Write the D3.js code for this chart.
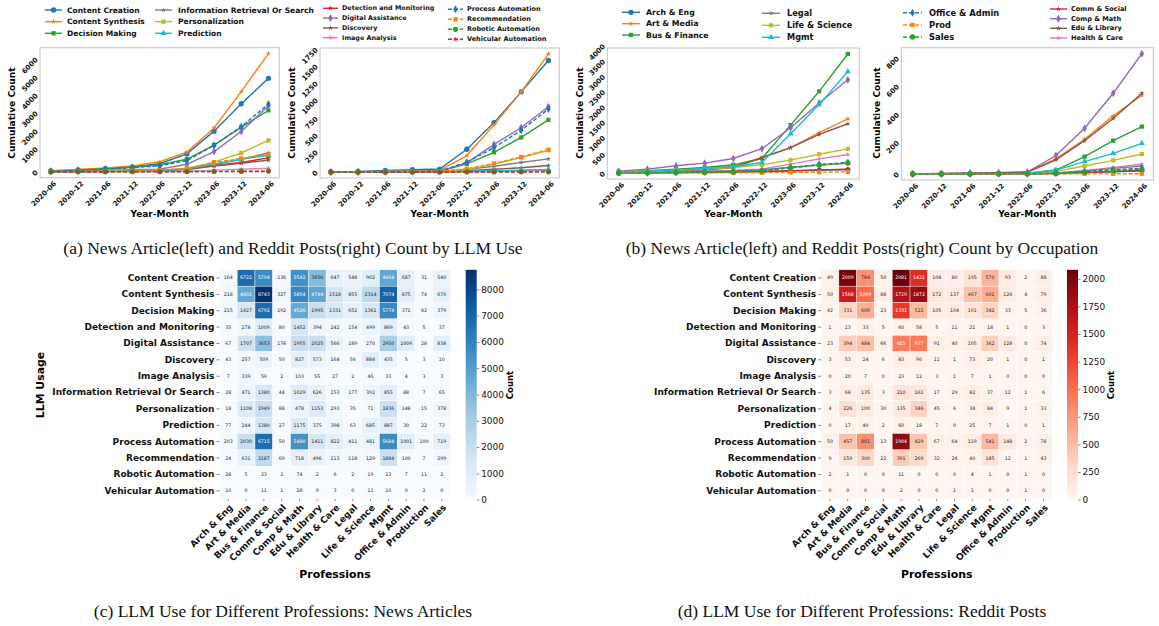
<!DOCTYPE html>
<html><head><meta charset="utf-8">
<script src="https://cdn.jsdelivr.net/npm/d3@7"></script>
<style>body{margin:0;background:#fff;} svg{display:block;font-family:"DejaVu Sans",sans-serif;}</style>
</head><body><svg id="c" width="1159" height="626"></svg>
<script>
// ---------------- DATA ----------------
const months = ["2020-06","2020-12","2021-06","2021-12","2022-06","2022-12","2023-06","2023-12","2024-06"];
const llmUses = ["Content Creation","Content Synthesis","Decision Making","Detection and Monitoring","Digital Assistance","Discovery","Image Analysis","Information Retrieval Or Search","Personalization","Prediction","Process Automation","Recommendation","Robotic Automation","Vehicular Automation"];
const professions = ["Arch & Eng","Art & Media","Bus & Finance","Comm & Social","Comp & Math","Edu & Library","Health & Care","Legal","Life & Science","Mgmt","Office & Admin","Production","Sales"];
const occupationLegendNames = ["Arch & Eng","Art & Media","Bus & Finance","Comm & Social","Comp & Math","Edu & Library","Health & Care","Legal","Life & Science","Mgmt","Office & Admin","Prod","Sales"];

// (a) left: news articles, cumulative by LLM use
const newsByUse = [
  [50,100,180,280,450,1000,2270,3800,5220],
  [60,130,220,330,560,1100,2450,4480,6600],
  [40,90,160,250,390,700,1490,2490,3430],
  [5,10,20,40,70,150,350,520,780],
  [20,40,70,110,150,420,1130,2250,3690],
  [10,20,30,45,60,120,320,480,650],
  [2,4,7,10,15,30,80,150,190],
  [10,20,40,60,80,150,400,700,1050],
  [10,20,40,60,100,190,540,1050,1750],
  [10,20,35,50,70,160,440,700,920],
  [30,80,150,230,330,620,1480,2520,3780],
  [10,20,40,60,90,180,520,740,980],
  [1,2,3,4,8,12,20,30,40],
  [0,1,2,3,4,6,10,15,20]
];
// (a) right: reddit posts, cumulative by LLM use
const redditByUse = [
  [5,10,25,35,45,340,737,1195,1662],
  [2,5,10,15,25,246,703,1195,1760],
  [0,2,5,8,10,123,295,516,777],
  [0,1,2,3,4,8,15,22,30],
  [0,2,5,8,15,138,413,664,973],
  [0,1,3,5,8,22,42,64,98],
  [0,1,2,3,4,6,12,18,25],
  [1,2,4,6,8,40,88,143,197],
  [0,1,2,4,6,40,120,215,325],
  [0,1,2,3,4,10,20,30,40],
  [0,2,5,8,15,148,364,624,939],
  [0,2,4,6,10,50,128,226,334],
  [0,0,1,1,2,3,3,4,5],
  [0,0,0,1,1,1,2,2,3]
];
// (b) left: news articles, cumulative by occupation
const newsByOcc = [
  [5,10,15,20,30,45,70,95,115],
  [30,60,100,150,217,510,835,1323,1779],
  [43,76,130,184,271,477,1573,2680,3905],
  [5,10,20,30,40,55,80,105,125],
  [65,130,239,325,477,803,1486,2300,3058],
  [20,40,70,100,184,500,835,1269,1616],
  [10,20,40,60,87,130,293,466,607],
  [10,20,35,50,70,110,190,260,320],
  [25,50,90,130,184,271,423,618,792],
  [30,60,100,150,206,347,1290,2245,3330],
  [5,10,20,30,45,80,180,280,350],
  [1,2,4,6,8,12,20,30,40],
  [5,10,20,30,40,75,170,265,330]
];
// (b) right: reddit posts, cumulative by occupation
const redditByOcc = [
  [0,1,1,2,2,5,10,15,22],
  [1,3,6,10,15,107,247,413,560],
  [0,1,2,3,5,28,123,237,337],
  [0,0,1,1,2,4,10,18,25],
  [1,3,7,10,14,131,325,574,855],
  [1,2,5,8,12,100,237,394,574],
  [0,0,1,1,2,8,24,47,69],
  [0,0,1,1,2,7,22,40,57],
  [0,0,1,1,3,19,57,97,142],
  [0,0,1,2,4,28,88,147,218],
  [0,0,0,1,1,5,18,30,40],
  [0,0,0,0,0,0,1,1,2],
  [0,0,0,1,1,4,14,25,33]
];
// y tick labels of the line charts
const yTicksA1 = [0,1000,2000,3000,4000,5000,6000];
const yTicksA2 = [0,250,500,750,1000,1250,1500,1750];
const yTicksB1 = [0,500,1000,1500,2000,2500,3000,3500,4000];
const yTicksB2 = [0,200,400,600,800];

// (c) heatmap: news articles (rows = LLM uses, cols = professions)
const heatNews = [
  [164,6722,5704,136,5542,3856,647,548,902,4664,687,31,540],
  [218,4601,8743,327,5854,4744,1518,855,2314,7074,875,74,670],
  [215,1427,6792,192,4526,1995,1331,652,1361,5774,371,82,379],
  [35,278,1009,80,1452,394,242,154,499,869,43,5,37],
  [67,1707,3653,178,1955,2025,566,189,270,2950,1009,28,838],
  [43,257,509,50,827,573,164,56,884,435,5,3,10],
  [7,339,59,2,103,55,27,2,46,33,4,3,3],
  [28,471,1380,44,1029,626,153,177,392,855,88,7,65],
  [18,1108,1949,88,478,1153,293,35,71,1836,148,15,378],
  [77,244,1380,27,1175,375,398,63,685,887,30,22,73],
  [203,2030,6715,50,5480,1411,822,411,481,5684,1001,100,719],
  [24,631,2187,69,718,496,213,118,129,1884,100,7,299],
  [28,5,23,2,74,2,6,2,19,23,7,11,2],
  [10,0,11,1,28,0,3,0,11,10,0,2,0]
];
// (d) heatmap: reddit posts
const heatReddit = [
  [49,2009,784,50,2081,1421,104,80,195,570,93,2,88],
  [50,1568,1009,88,1729,1872,172,137,467,601,126,4,79],
  [42,331,600,23,1331,522,105,104,191,342,33,5,36],
  [1,13,33,5,60,58,5,11,21,18,1,0,3],
  [23,394,484,66,915,937,91,40,105,362,128,0,74],
  [3,53,24,6,83,90,11,1,73,20,1,0,1],
  [0,20,7,0,23,12,3,1,7,1,0,0,0],
  [3,68,135,3,210,161,17,29,82,37,12,1,6],
  [4,226,100,30,135,346,45,6,34,84,9,1,33],
  [0,17,40,2,60,18,7,0,25,7,1,0,1],
  [50,457,801,13,1904,429,67,64,119,541,148,2,78],
  [9,159,300,22,391,269,32,24,40,185,12,1,43],
  [2,1,0,0,11,0,0,0,4,1,0,1,0],
  [0,0,0,0,2,0,0,1,1,0,0,1,0]
];
const cbTicksNews = [0,1000,2000,3000,4000,5000,6000,7000,8000];
const cbTicksReddit = [0,250,500,750,1000,1250,1500,1750,2000];

// ---------------- STYLE ----------------
const tab10 = ["#1f77b4","#ff7f0e","#2ca02c","#d62728","#9467bd","#8c564b","#e377c2","#7f7f7f","#bcbd22","#17becf"];
const markerCycle = [d3.symbolCircle,d3.symbolStar,d3.symbolSquare,d3.symbolStar,d3.symbolDiamond,d3.symbolStar,d3.symbolStar,d3.symbolStar,d3.symbolSquare,d3.symbolTriangle,d3.symbolDiamond,d3.symbolSquare,d3.symbolCircle,d3.symbolStar];
function mSize(t){ return t===d3.symbolStar?9:(t===d3.symbolCircle?22:(t===d3.symbolTriangle?16:18)); }
const fmt = d3.format("d");

const svg = d3.select("#c");

function lineChart(cfg){
  const g = svg.append("g");
  const x = d3.scaleLinear().domain([-0.4, months.length-1+0.4]).range([cfg.fx0, cfg.fx1]);
  const all = cfg.values.flat();
  const mn = d3.min(all), mx = d3.max(all), pad = (mx-mn)*0.05;
  const y = d3.scaleLinear().domain([mn-pad, mx+pad]).range([cfg.fy1, cfg.fy0]);
  g.append("rect").attr("x",cfg.fx0).attr("y",cfg.fy0).attr("width",cfg.fx1-cfg.fx0).attr("height",cfg.fy1-cfg.fy0)
    .attr("fill","none").attr("stroke","#c4c4c4").attr("stroke-width",1);
  const line = d3.line().x((d,j)=>x(j)).y(d=>y(d));
  cfg.values.forEach((vals,i)=>{
    const col = tab10[i%10];
    g.append("path").datum(vals).attr("d",line).attr("fill","none").attr("stroke",col)
      .attr("stroke-width",1.4).attr("stroke-dasharray", i>=10?"4,2":null);
    const t = markerCycle[i];
    g.selectAll(null).data(vals).join("path")
      .attr("transform",(d,j)=>`translate(${x(j)},${y(d)})`)
      .attr("d", d3.symbol().type(t).size(mSize(t))).attr("fill",col);
  });
  // axes
  const ya = g.append("g").attr("transform",`translate(${cfg.fx0},0)`)
    .call(d3.axisLeft(y).tickValues(cfg.yTicks).tickFormat(fmt).tickSize(0).tickPadding(3));
  ya.select(".domain").remove();
  ya.selectAll("text").attr("font-size",7).attr("font-weight","bold").attr("fill","#111")
    .attr("font-family","DejaVu Sans").attr("dy",null).attr("x",0).attr("dominant-baseline","central")
    .attr("transform",function(){const L=this.getComputedTextLength();return `translate(-3,${-L/(2*Math.SQRT2)+1}) rotate(-45)`;});
  const xa = g.append("g").attr("transform",`translate(0,${cfg.fy1})`)
    .call(d3.axisBottom(x).tickValues(d3.range(months.length)).tickFormat(i=>months[i]).tickSize(0));
  xa.select(".domain").remove();
  xa.selectAll("text").attr("font-size",7).attr("font-weight","bold").attr("fill","#111")
    .attr("font-family","DejaVu Sans").attr("y",0).attr("dy",null).attr("dominant-baseline","central")
    .attr("text-anchor","end").attr("transform","translate(4,5) rotate(-45)");
  g.append("text").attr("x",(cfg.fx0+cfg.fx1)/2).attr("y",217).attr("text-anchor","middle")
    .attr("font-size",9).attr("font-weight","bold").text("Year-Month");
  g.append("text").attr("transform",`translate(${cfg.ylx},113) rotate(-90)`).attr("text-anchor","middle")
    .attr("dominant-baseline","central").attr("font-size",9.1).attr("font-weight","bold").text("Cumulative Count");
  // legend
  cfg.legend.forEach(col=>{
    col.idx.forEach((i,k)=>{
      const yy = col.ys[k], c = tab10[i%10], t = markerCycle[i];
      g.append("line").attr("x1",col.sx0).attr("x2",col.sx1).attr("y1",yy).attr("y2",yy)
        .attr("stroke",c).attr("stroke-width",1.4).attr("stroke-dasharray", i>=10?"4,2":null);
      g.append("path").attr("transform",`translate(${(col.sx0+col.sx1)/2},${yy})`)
        .attr("d",d3.symbol().type(t).size(mSize(t))).attr("fill",c);
      g.append("text").attr("x",col.tx).attr("y",yy).attr("dominant-baseline","central")
        .attr("font-size",col.fs).attr("font-weight","bold").attr("fill","#111").text(cfg.names[i]);
    });
  });
}

lineChart({values:newsByUse, names:llmUses, yTicks:yTicksA1, fx0:40, fx1:279.3, fy0:47.7, fy1:177.7, ylx:12,
  legend:[{idx:[0,1,2], ys:[10,21.7,33.3], sx0:45, sx1:62, tx:67, fs:7.55},
          {idx:[7,8,9], ys:[10,21.7,33.3], sx0:155, sx1:172, tx:178, fs:7.55}]});
lineChart({values:redditByUse, names:llmUses, yTicks:yTicksA2, fx0:320, fx1:559.3, fy0:48, fy1:178, ylx:292,
  legend:[{idx:[3,4,5,6], ys:[8.3,18.1,27.9,37.7], sx0:323, sx1:338, tx:342, fs:6.4},
          {idx:[10,11,12,13], ys:[9.3,19.3,29.3,39.3], sx0:448, sx1:463, tx:467, fs:6.5}]});
lineChart({values:newsByOcc, names:occupationLegendNames, yTicks:yTicksB1, fx0:607.3, fx1:859.3, fy0:48, fy1:179, ylx:580,
  legend:[{idx:[0,1,2], ys:[12.3,23.7,35], sx0:622, sx1:640, tx:646, fs:7.8},
          {idx:[7,8,9], ys:[13.3,25.3,37.3], sx0:762, sx1:780, tx:787, fs:8.2}]});
lineChart({values:redditByOcc, names:occupationLegendNames, yTicks:yTicksB2, fx0:901.3, fx1:1153.3, fy0:47.7, fy1:180, ylx:876.7,
  legend:[{idx:[10,11,12], ys:[12.7,25,37], sx0:903, sx1:922, tx:929, fs:8.4},
          {idx:[3,4,5,6], ys:[9,18.7,28.3,38], sx0:1050, sx1:1067, tx:1071, fs:6.6}]});

function relLum(c){ const r=d3.rgb(c); const f=v=>{v/=255;return v<=0.03928?v/12.92:Math.pow((v+0.055)/1.055,2.4);}; return 0.2126*f(r.r)+0.7152*f(r.g)+0.0722*f(r.b); }

function heatmap(cfg){
  const g = svg.append("g");
  const x = d3.scaleBand().domain(professions).range([cfg.x0, cfg.x1]);
  const y = d3.scaleBand().domain(llmUses).range([269.8, 499]);
  const vmax = d3.max(cfg.values.flat());
  const color = d3.scaleSequential(cfg.interp).domain([0, vmax]);
  cfg.values.forEach((row,ri)=>{
    row.forEach((v,ci)=>{
      const c = color(v);
      g.append("rect").attr("x",x(professions[ci])).attr("y",y(llmUses[ri]))
        .attr("width",x.bandwidth()).attr("height",y.bandwidth()).attr("fill",c)
        .attr("stroke","#fff").attr("stroke-width",0.4);
      g.append("text").attr("x",x(professions[ci])+x.bandwidth()/2).attr("y",y(llmUses[ri])+y.bandwidth()/2)
        .attr("text-anchor","middle").attr("dominant-baseline","central").attr("font-size",4.7)
        .attr("fill", relLum(c)>0.408?"#262626":"#fff").text(v);
    });
  });
  const ya = g.append("g").attr("transform",`translate(${cfg.x0},0)`).call(d3.axisLeft(y).tickSize(3).tickPadding(2));
  ya.select(".domain").remove();
  ya.selectAll("line").attr("stroke","#333").attr("stroke-width",0.6);
  ya.selectAll("text").attr("font-size",9).attr("font-weight","bold").attr("fill","#111").attr("font-family","DejaVu Sans");
  const xa = g.append("g").attr("transform",`translate(0,499)`).call(d3.axisBottom(x).tickSize(2).tickPadding(2));
  xa.select(".domain").remove();
  xa.selectAll("line").attr("stroke","#333").attr("stroke-width",0.6);
  xa.selectAll("text").attr("font-size",9).attr("font-weight","bold").attr("fill","#111").attr("font-family","DejaVu Sans")
    .attr("y",0).attr("dy",null).attr("dominant-baseline","central").attr("text-anchor","end")
    .attr("transform","translate(3,7) rotate(-45)");
  g.append("text").attr("x",(cfg.x0+cfg.x1)/2).attr("y",578).attr("text-anchor","middle")
    .attr("font-size",10.9).attr("font-weight","bold").text("Professions");
  if(cfg.ylabel) g.append("text").attr("transform",`translate(${cfg.ylx},385) rotate(-90)`).attr("text-anchor","middle")
    .attr("dominant-baseline","central").attr("font-size",10.9).attr("font-weight","bold").text(cfg.ylabel);
  // colorbar
  const cb = d3.scaleLinear().domain([0,vmax]).range([499.6,269.8]);
  const gid = "grad"+cfg.id;
  const grad = svg.append("defs").append("linearGradient").attr("id",gid).attr("x1",0).attr("y1",1).attr("x2",0).attr("y2",0);
  d3.range(0,1.0001,0.05).forEach(t=>grad.append("stop").attr("offset",t).attr("stop-color",cfg.interp(t)));
  g.append("rect").attr("x",cfg.cbx).attr("y",269.8).attr("width",11).attr("height",499.6-269.8).attr("fill",`url(#${gid})`);
  const ca = g.append("g").attr("transform",`translate(${cfg.cbx+11},0)`).call(d3.axisRight(cb).tickValues(cfg.cbTicks).tickFormat(fmt).tickSize(2.5).tickPadding(2));
  ca.select(".domain").remove();
  ca.selectAll("line").attr("stroke","#333").attr("stroke-width",0.6);
  ca.selectAll("text").attr("font-size",8.9).attr("fill","#111").attr("font-family","DejaVu Sans");
  g.append("text").attr("transform",`translate(${cfg.cbx+44},385) rotate(-90)`).attr("text-anchor","middle")
    .attr("dominant-baseline","central").attr("font-size",8.5).attr("font-weight","bold").text("Count");
}
heatmap({id:"n", values:heatNews, interp:d3.interpolateBlues, x0:219.4, x1:450.6, cbx:465.7, cbTicks:cbTicksNews, ylabel:"LLM Usage", ylx:40});
heatmap({id:"r", values:heatReddit, interp:d3.interpolateReds, x0:821.1, x1:1052.3, cbx:1067, cbTicks:cbTicksReddit, ylabel:null});

// captions
const caps = [["(a) News Article(left) and Reddit Posts(right) Count by LLM Use",293,254],
  ["(b) News Article(left) and Reddit Posts(right) Count by Occupation",862,254],
  ["(c) LLM Use for Different Professions: News Articles",283,617],
  ["(d) LLM Use for Different Professions: Reddit Posts",862,617]];
svg.selectAll("text.cap").data(caps).join("text").attr("class","cap").attr("x",d=>d[1]).attr("y",d=>d[2])
  .attr("text-anchor","middle").attr("font-family","'Liberation Serif','Times New Roman',serif").attr("font-size",17.5)
  .attr("fill","#111").text(d=>d[0]);
</script></body></html>
